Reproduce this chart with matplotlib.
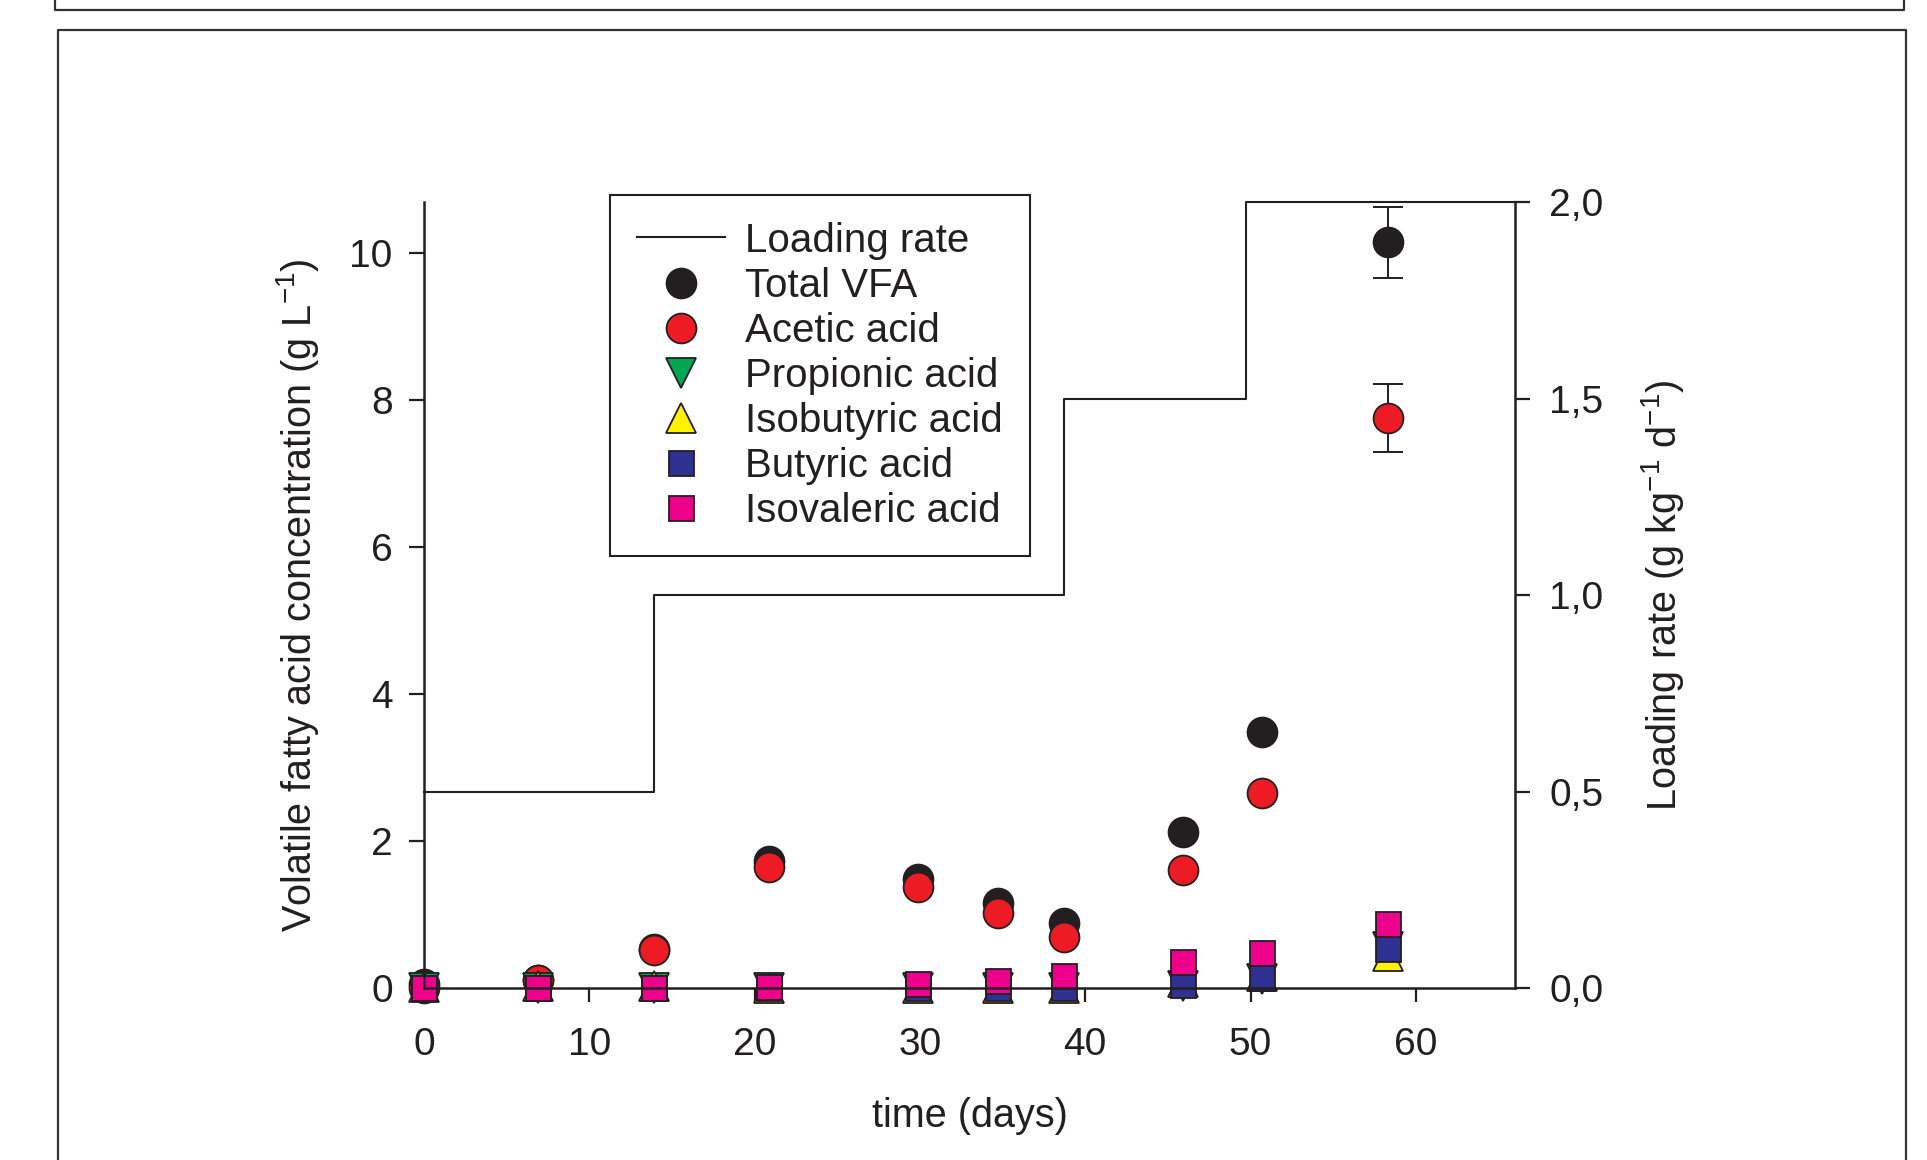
import matplotlib
matplotlib.use("Agg")
import matplotlib.pyplot as plt
from matplotlib.lines import Line2D

plt.rcParams['font.family'] = ['Liberation Sans', 'DejaVu Sans']
plt.rcParams['mathtext.fontset'] = 'custom'
plt.rcParams['mathtext.rm'] = 'Liberation Sans'
plt.rcParams['mathtext.it'] = 'Liberation Sans'
plt.rcParams['mathtext.bf'] = 'Liberation Sans'

# Sampling days and concentrations (g/L)
days = [0, 6.9, 13.9, 20.9, 29.9, 34.7, 38.7, 45.9, 50.7, 58.3]
total_vfa = [0.05, 0.11, 0.53, 1.73, 1.48, 1.16, 0.89, 2.13, 3.49, 10.15]
acetic = [0.0, 0.11, 0.52, 1.65, 1.38, 1.02, 0.69, 1.61, 2.65, 7.76]
propionic = [0.0, 0.0, 0.0, 0.0, 0.0, 0.0, 0.0, 0.03, 0.12, 0.56]
isobutyric = [0.02, 0.03, 0.03, 0.0, 0.0, 0.0, 0.0, 0.08, 0.17, 0.43]
butyric = [0.0, 0.0, 0.0, 0.0, 0.0, 0.0, 0.0, 0.04, 0.14, 0.53]
isovaleric = [0.0, 0.0, 0.0, 0.01, 0.05, 0.10, 0.17, 0.35, 0.48, 0.87]

# error bars shown only on the last sample
last_day = 58.3
total_err = 0.48
acetic_err = 0.46

# loading rate steps (g kg-1 d-1)
load_days = [0, 13.9, 38.7, 49.7, 66]
load_rate = [0.5, 1.0, 1.5, 2.0, 2.0]

x_ticks = [0, 10, 20, 30, 40, 50, 60]
y_ticks = [0, 2, 4, 6, 8, 10]
right_ticks = [0.0, 0.5, 1.0, 1.5, 2.0]
right_tick_labels = ['0,0', '0,5', '1,0', '1,5', '2,0']

ink = '#231f20'
W, H = 1927, 1160

fig = plt.figure(figsize=(W / 100, H / 100), dpi=100)

# frame lines of the page (top panel bottom edge and lower panel box)
fig.add_artist(Line2D([55 / W, 55 / W, 1904 / W, 1904 / W], [1, 1 - 10 / H, 1 - 10 / H, 1],
                      transform=fig.transFigure, color='#333333', lw=1.6))
fig.add_artist(Line2D([58 / W, 58 / W, 1906 / W, 1906 / W], [0, 1 - 29.5 / H, 1 - 29.5 / H, 0],
                      transform=fig.transFigure, color='#333333', lw=1.6))

ax = fig.add_axes([424 / W, 1 - 988 / H, (1515 - 424) / W, (988 - 202) / H])
ax2 = ax.twinx()
ax.set_zorder(ax2.get_zorder() + 1)
ax.patch.set_visible(False)

lr, = ax2.plot(load_days, load_rate, drawstyle='steps-post', color=ink, lw=1.5,
               clip_on=False, label='Loading rate')

series = [
    (total_vfa, 'o', ink, 'Total VFA', 21.5),
    (acetic, 'o', '#ed1c24', 'Acetic acid', 21.5),
    (propionic, 'v', '#00a651', 'Propionic acid', 22),
    (isobutyric, '^', '#fff200', 'Isobutyric acid', 22),
    (butyric, 's', '#2e3192', 'Butyric acid', 18),
    (isovaleric, 's', '#ec008c', 'Isovaleric acid', 18),
]
handles = [lr]
for vals, mk, col, lab, ms in series:
    h, = ax.plot(days, vals, ls='none', marker=mk, ms=ms, mfc=col, mec=ink, mew=1.3,
                 clip_on=False, label=lab)
    handles.append(h)

ax.errorbar([last_day], [total_vfa[-1]], yerr=[total_err], fmt='none', ecolor=ink,
            elinewidth=1.4, capsize=11, capthick=1.4, zorder=1.5)
ax.errorbar([last_day], [acetic[-1]], yerr=[acetic_err], fmt='none', ecolor=ink,
            elinewidth=1.4, capsize=11, capthick=1.4, zorder=1.5)

ax.set_xlim(0, 66)
ax.set_ylim(0, 10.7)
ax2.set_ylim(0, 2.0)
ax.set_xticks(x_ticks)
ax.set_yticks(y_ticks)
ax2.set_yticks(right_ticks)
ax2.set_yticklabels(right_tick_labels)

for a in (ax, ax2):
    for s in a.spines.values():
        s.set_linewidth(1.8)
        s.set_color(ink)
    a.spines['top'].set_visible(False)
ax.spines['right'].set_visible(False)
ax2.spines['left'].set_visible(False)
ax2.spines['bottom'].set_visible(False)

ax.tick_params(axis='x', direction='out', length=10, width=1.6, labelsize=28, pad=18, colors=ink)
ax.tick_params(axis='y', direction='out', length=10.5, width=1.6, labelsize=28, pad=12, colors=ink)
ax2.tick_params(axis='y', direction='out', length=10.5, width=1.6, labelsize=28, pad=14, colors=ink)

ax.set_xlabel('time (days)', fontsize=28.5, color=ink)
ax.set_ylabel('Volatile fatty acid concentration (g L$^{-1}$)', fontsize=28.5, color=ink)
ax2.set_ylabel('Loading rate (g kg$^{-1}$ d$^{-1}$)', fontsize=28.5, color=ink)
ax.xaxis.set_label_coords(0.5, -0.139)
ax.yaxis.set_label_coords(-0.094, 0.5)
ax2.yaxis.set_label_coords(1.114, 0.5)

leg = ax.legend(handles, [h.get_label() for h in handles], loc='upper left',
                bbox_to_anchor=(610 / W, 1 - 195 / H), bbox_transform=fig.transFigure,
                frameon=True, fancybox=False, framealpha=1, edgecolor=ink,
                fontsize=29, handlelength=2.2, handletextpad=0.5, borderpad=0.66,
                labelspacing=0.175, borderaxespad=0, numpoints=1)
leg.get_frame().set_linewidth(1.5)
for t in leg.get_texts():
    t.set_color(ink)

fig.savefig('out.png', dpi=100)
